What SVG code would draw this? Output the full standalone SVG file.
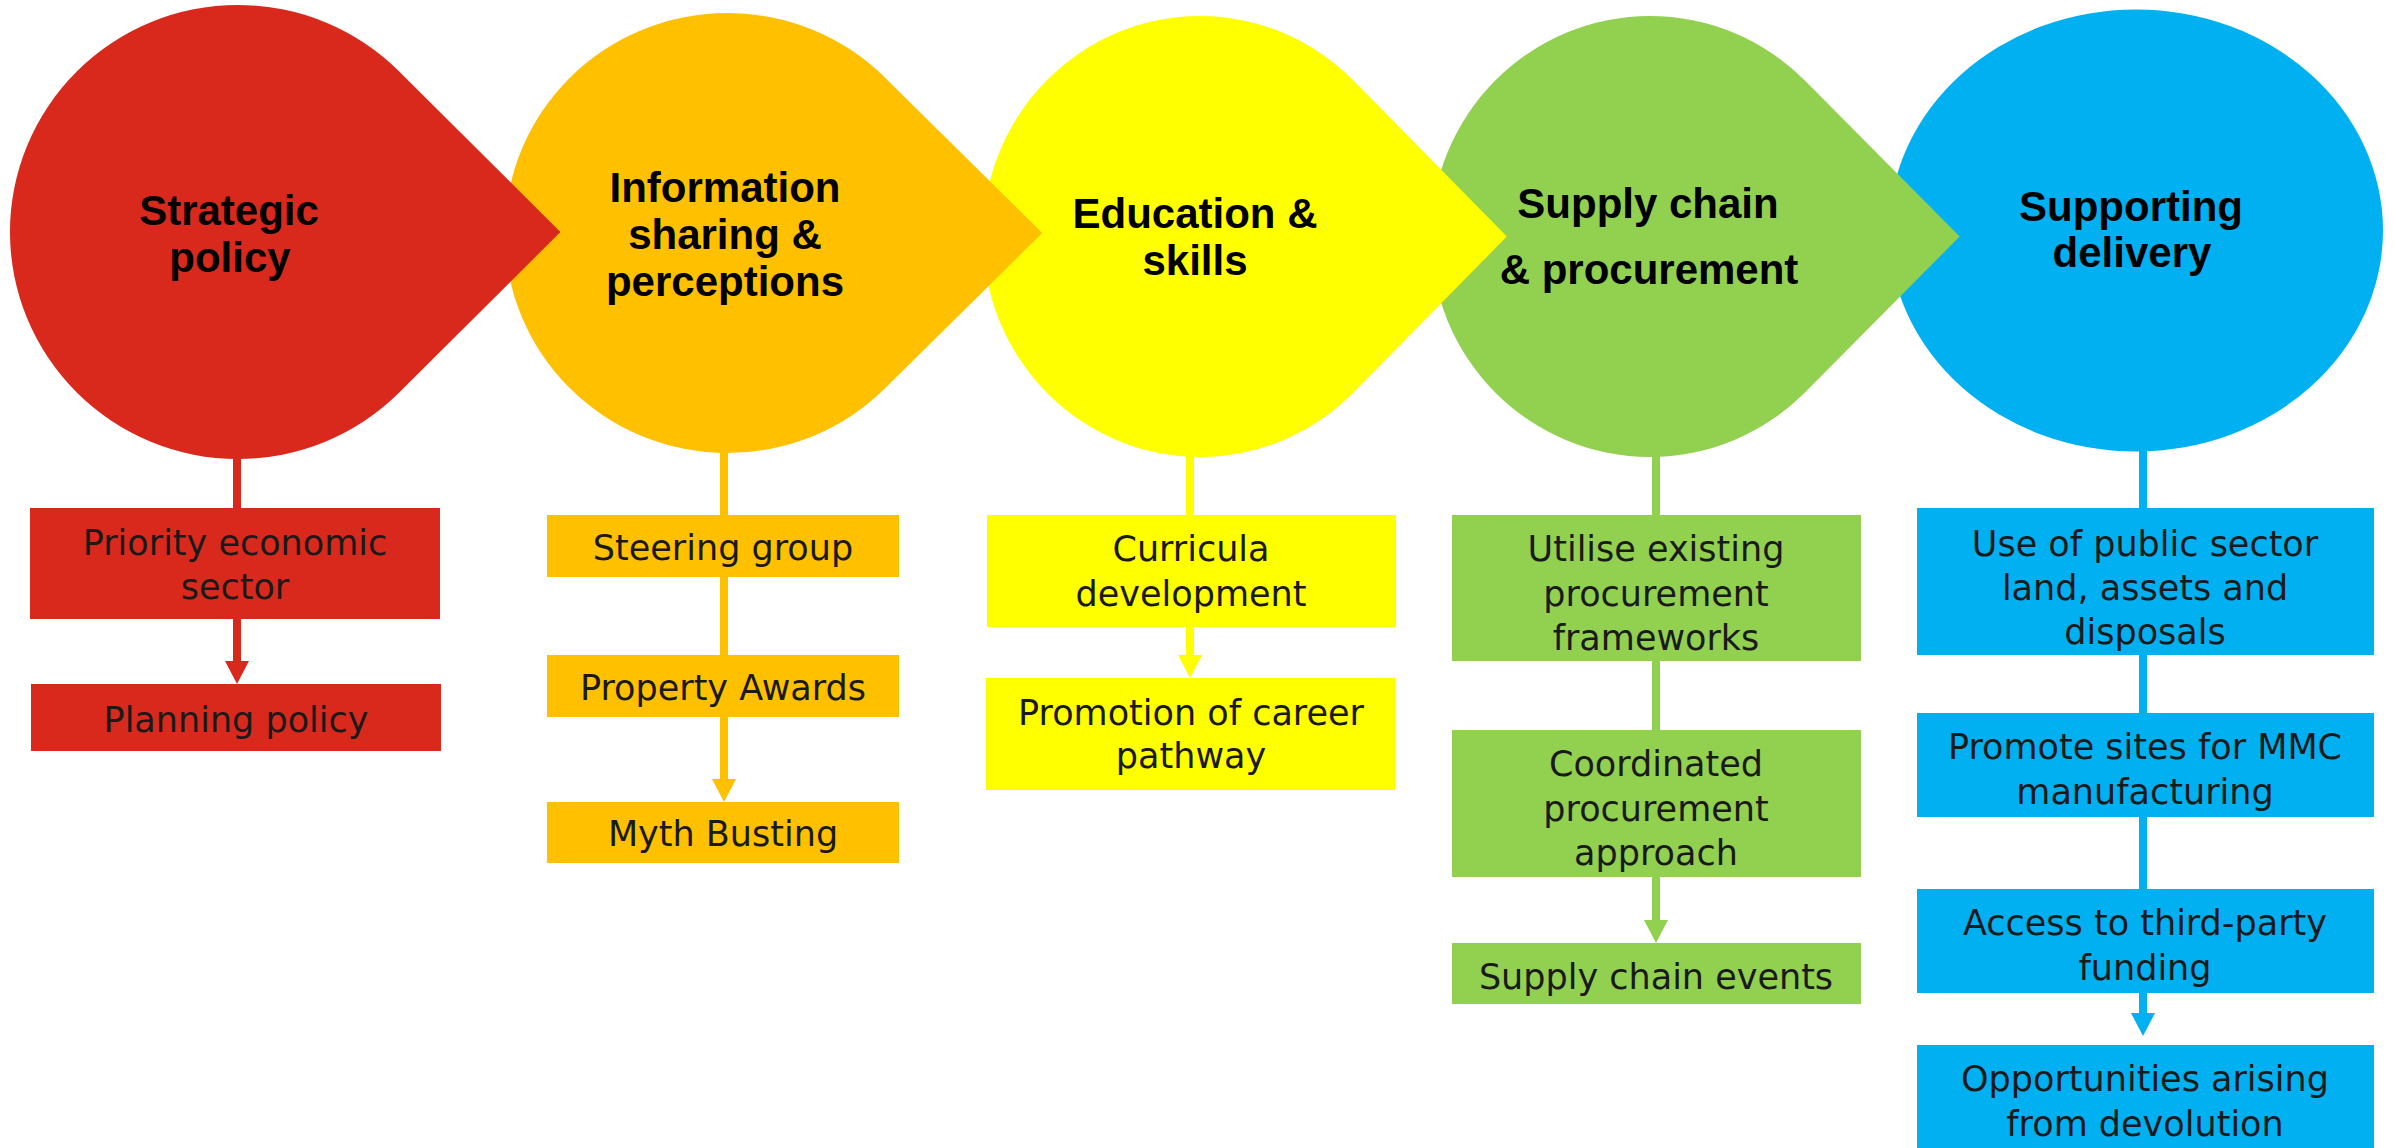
<svg xmlns="http://www.w3.org/2000/svg" width="2395" height="1148" viewBox="0 0 2395 1148">
  <style>
    .title { font-family: "Liberation Sans", Arial, sans-serif; font-weight: bold; font-size: 42px; fill: #000; text-anchor: middle; }
    .item { font-family: "DejaVu Sans", Verdana, sans-serif; font-size: 35px; fill: #1a1a1a; text-anchor: middle; }
    .red { fill: #D9291C; }
    .orange { fill: #FFC000; }
    .yellow { fill: #FFFF00; }
    .green { fill: #92D050; }
    .blue { fill: #00B0F0; }
    .link { stroke-width: 8; fill: none; }
  </style>
  <defs>
    <marker id="head-red" markerUnits="userSpaceOnUse" markerWidth="24" markerHeight="26" viewBox="0 -13 24 26" refX="0" refY="0" orient="auto"><path d="M0,-12 L23,0 L0,12 Z" fill="#D9291C"/></marker>
    <marker id="head-orange" markerUnits="userSpaceOnUse" markerWidth="24" markerHeight="26" viewBox="0 -13 24 26" refX="0" refY="0" orient="auto"><path d="M0,-12 L23,0 L0,12 Z" fill="#FFC000"/></marker>
    <marker id="head-yellow" markerUnits="userSpaceOnUse" markerWidth="24" markerHeight="26" viewBox="0 -13 24 26" refX="0" refY="0" orient="auto"><path d="M0,-12 L23,0 L0,12 Z" fill="#FFFF00"/></marker>
    <marker id="head-green" markerUnits="userSpaceOnUse" markerWidth="24" markerHeight="26" viewBox="0 -13 24 26" refX="0" refY="0" orient="auto"><path d="M0,-12 L23,0 L0,12 Z" fill="#92D050"/></marker>
    <marker id="head-blue" markerUnits="userSpaceOnUse" markerWidth="24" markerHeight="26" viewBox="0 -13 24 26" refX="0" refY="0" orient="auto"><path d="M0,-12 L23,0 L0,12 Z" fill="#00B0F0"/></marker>
  </defs>

  <rect width="2395" height="1148" fill="#fff"/>

  <!-- vertical spines under each stage -->
  <g id="connectors">
    <line class="link" x1="237" y1="440" x2="237" y2="661" stroke="#D9291C" marker-end="url(#head-red)"/>
    <line class="link" x1="724" y1="440" x2="724" y2="779" stroke="#FFC000" marker-end="url(#head-orange)"/>
    <line class="link" x1="1190" y1="440" x2="1190" y2="655" stroke="#FFFF00" marker-end="url(#head-yellow)"/>
    <line class="link" x1="1656" y1="440" x2="1656" y2="920" stroke="#92D050" marker-end="url(#head-green)"/>
    <line class="link" x1="2143" y1="440" x2="2143" y2="1013" stroke="#00B0F0" marker-end="url(#head-blue)"/>
  </g>

  <!-- stage heads, drawn right to left so each point overlaps the next stage -->
  <g id="stage-delivery">
    <ellipse class="blue" cx="2136" cy="230.5" rx="247" ry="221"/>
    <text class="title" x="2131" y="221">Supporting</text>
    <text class="title" x="2132" y="267">delivery</text>
  </g>
  <g id="stage-supply">
    <path class="green" d="M1959.7,236.5 L1804.9,80.6 A219,220.5 0 1 0 1804.9,392.4 Z"/>
    <text class="title" x="1648" y="218">Supply chain</text>
    <text class="title" x="1649" y="284">&amp; procurement</text>
  </g>
  <g id="stage-education">
    <path class="yellow" d="M1506.9,236.5 L1353.4,80.6 A217,220.5 0 1 0 1353.4,392.4 Z"/>
    <text class="title" x="1195" y="228">Education &amp;</text>
    <text class="title" x="1195" y="275">skills</text>
  </g>
  <g id="stage-information">
    <path class="orange" d="M1042.2,233 L884.8,77.4 A222.5,220 0 1 0 884.8,388.6 Z"/>
    <text class="title" x="725" y="202">Information</text>
    <text class="title" x="725" y="249">sharing &amp;</text>
    <text class="title" x="725" y="296">perceptions</text>
  </g>
  <g id="stage-strategic">
    <path class="red" d="M560.4,232 L399.2,71.5 A228,227 0 1 0 399.2,392.5 Z"/>
    <text class="title" x="229" y="225">Strategic</text>
    <text class="title" x="230" y="272">policy</text>
  </g>

  <!-- Strategic policy items -->
  <g id="priority-sector">
    <rect class="red" x="30" y="508" width="410" height="111"/>
    <text class="item" x="235" y="555">Priority economic</text>
    <text class="item" x="235" y="599">sector</text>
  </g>
  <g id="planning-policy">
    <rect class="red" x="31" y="684" width="410" height="67"/>
    <text class="item" x="236" y="732">Planning policy</text>
  </g>

  <!-- Information sharing items -->
  <g id="steering-group">
    <rect class="orange" x="547" y="515" width="352" height="62"/>
    <text class="item" x="723" y="560">Steering group</text>
  </g>
  <g id="property-awards">
    <rect class="orange" x="547" y="655" width="352" height="62"/>
    <text class="item" x="723" y="700">Property Awards</text>
  </g>
  <g id="myth-busting">
    <rect class="orange" x="547" y="802" width="352" height="61"/>
    <text class="item" x="723" y="846">Myth Busting</text>
  </g>

  <!-- Education items -->
  <g id="curricula">
    <rect class="yellow" x="987" y="515" width="409" height="112"/>
    <text class="item" x="1191" y="561">Curricula</text>
    <text class="item" x="1191" y="606">development</text>
  </g>
  <g id="career-pathway">
    <rect class="yellow" x="986" y="678" width="409" height="112"/>
    <text class="item" x="1191" y="725">Promotion of career</text>
    <text class="item" x="1191" y="768">pathway</text>
  </g>

  <!-- Supply chain items -->
  <g id="existing-frameworks">
    <rect class="green" x="1452" y="515" width="409" height="146"/>
    <text class="item" x="1656" y="561">Utilise existing</text>
    <text class="item" x="1656" y="606">procurement</text>
    <text class="item" x="1656" y="650">frameworks</text>
  </g>
  <g id="coordinated-procurement">
    <rect class="green" x="1452" y="730" width="409" height="147"/>
    <text class="item" x="1656" y="776">Coordinated</text>
    <text class="item" x="1656" y="821">procurement</text>
    <text class="item" x="1656" y="865">approach</text>
  </g>
  <g id="supply-chain-events">
    <rect class="green" x="1452" y="943" width="409" height="61"/>
    <text class="item" x="1656" y="989">Supply chain events</text>
  </g>

  <!-- Supporting delivery items -->
  <g id="public-land">
    <rect class="blue" x="1917" y="508" width="457" height="147"/>
    <text class="item" x="2145" y="556">Use of public sector</text>
    <text class="item" x="2145" y="600">land, assets and</text>
    <text class="item" x="2145" y="644">disposals</text>
  </g>
  <g id="mmc-sites">
    <rect class="blue" x="1917" y="713" width="457" height="104"/>
    <text class="item" x="2145" y="759">Promote sites for MMC</text>
    <text class="item" x="2145" y="804">manufacturing</text>
  </g>
  <g id="third-party-funding">
    <rect class="blue" x="1917" y="889" width="457" height="104"/>
    <text class="item" x="2145" y="935">Access to third-party</text>
    <text class="item" x="2145" y="980">funding</text>
  </g>
  <g id="devolution">
    <rect class="blue" x="1917" y="1045" width="457" height="110"/>
    <text class="item" x="2145" y="1091">Opportunities arising</text>
    <text class="item" x="2145" y="1136">from devolution</text>
  </g>
</svg>
